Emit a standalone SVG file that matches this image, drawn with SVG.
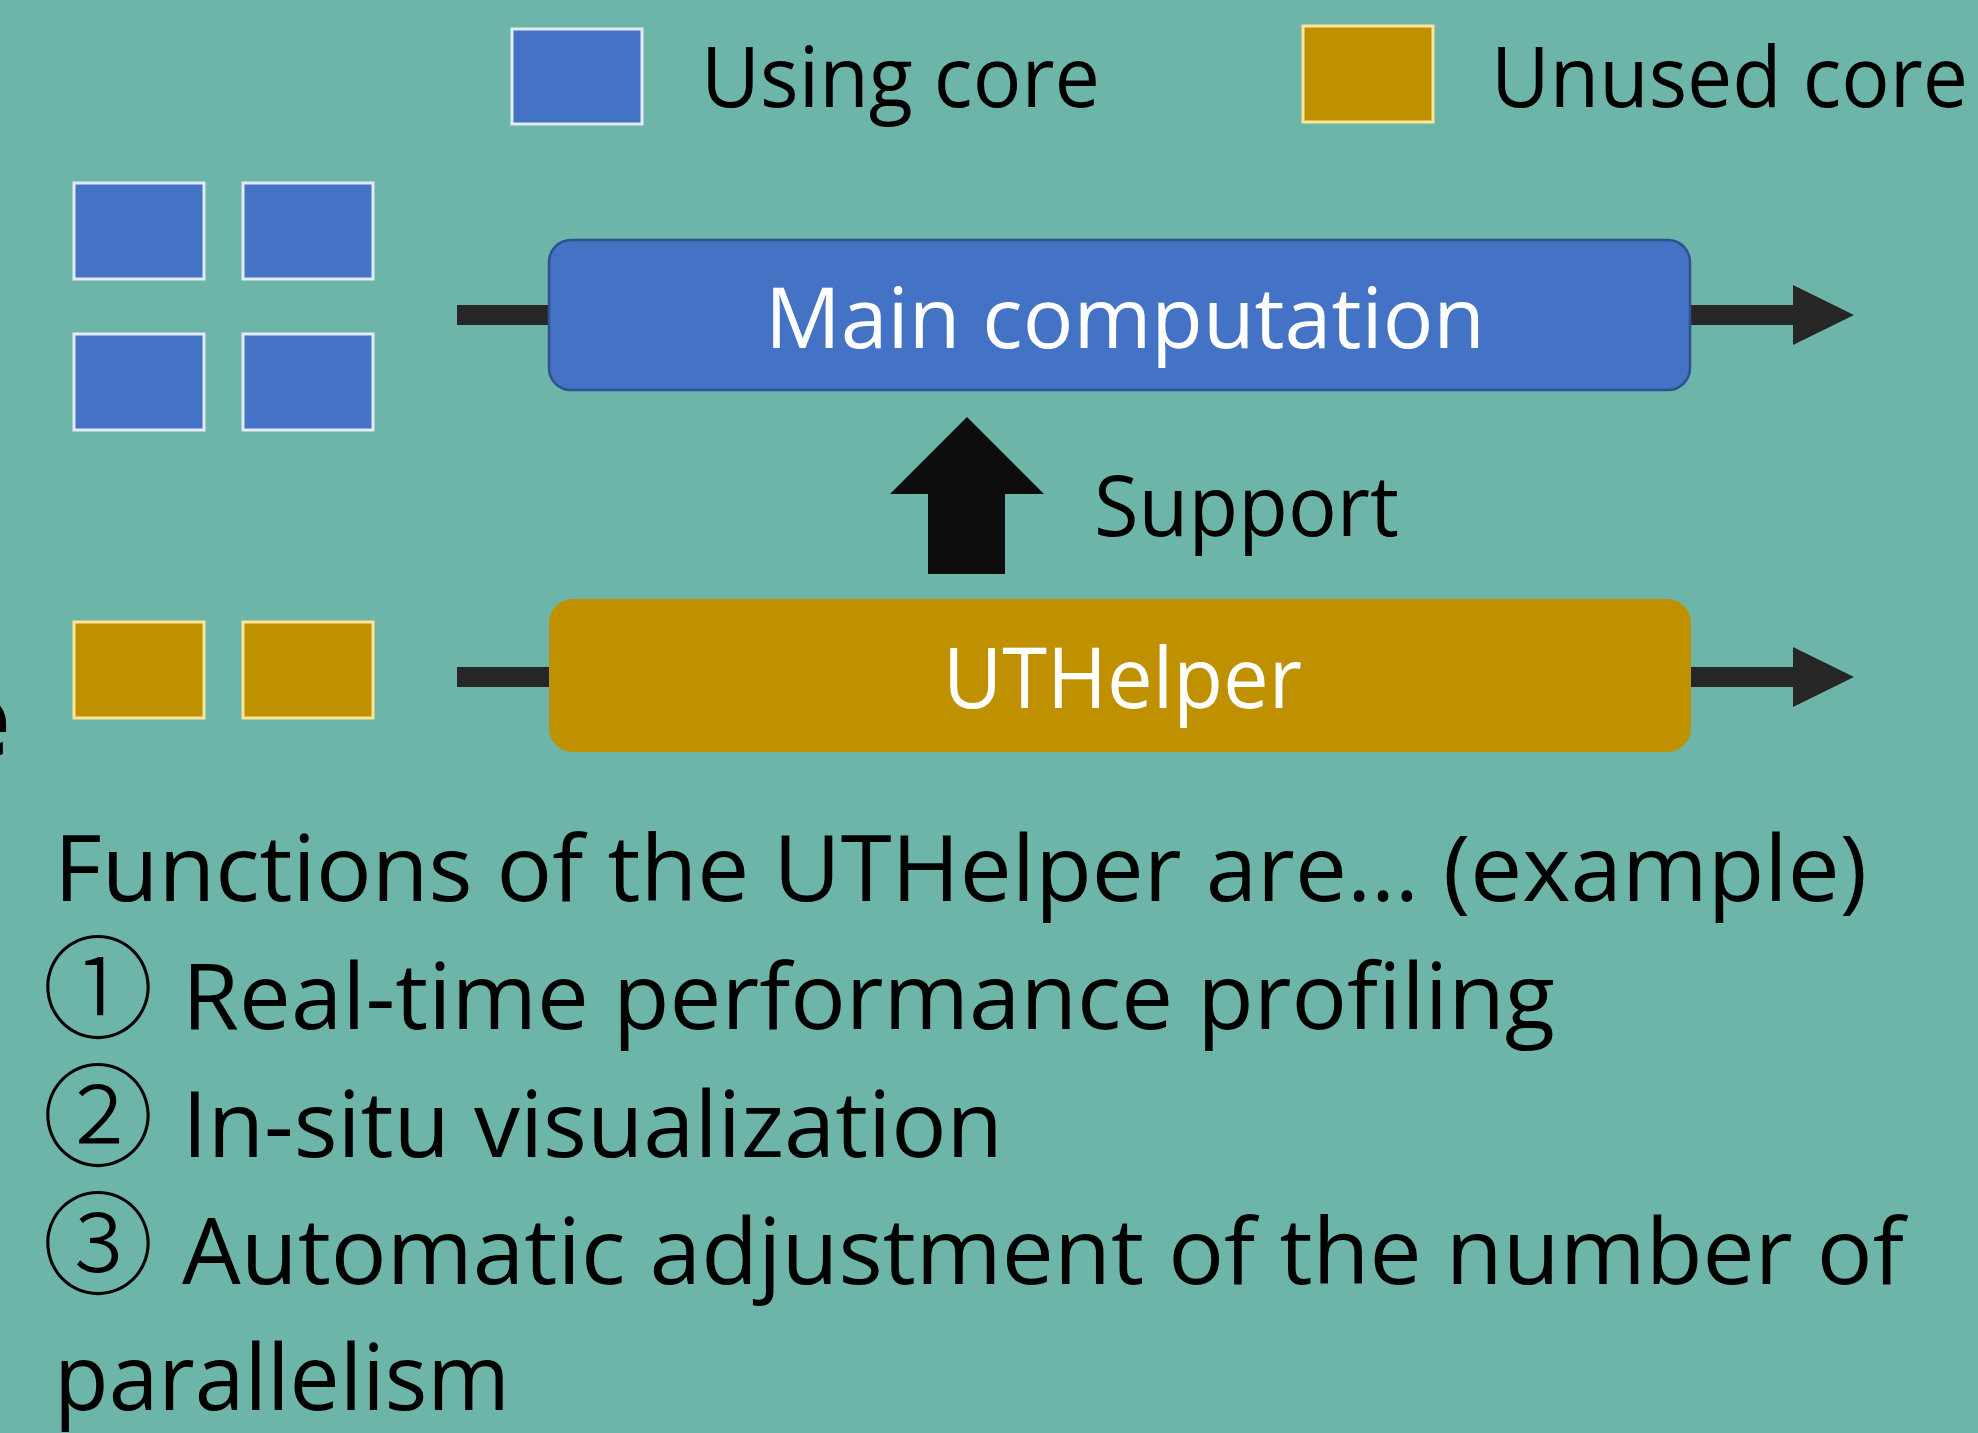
<svg xmlns="http://www.w3.org/2000/svg" width="1978" height="1433" viewBox="0 0 1978 1433">
<defs>
<style>
.t{font-family:"Open Sans","Noto Sans",sans-serif;fill:#000}
.w{fill:#fff}
.lg{font-size:85px}
.bd{font-size:92px}
.core-b{fill:#4472C4;stroke:#E4EAF6;stroke-width:3}
.core-o{fill:#BF9000;stroke:#FFE699;stroke-width:3}
.conn{stroke:#262626;stroke-width:20;fill:none}
.num{font-family:"Noto Sans CJK JP","Noto Sans",sans-serif;font-size:112px;font-weight:300;fill:#000}
</style>
<marker id="ah" markerUnits="userSpaceOnUse" markerWidth="61" markerHeight="60" refX="0" refY="30" orient="auto">
<path d="M0,0 L61,30 L0,60 Z" fill="#262626"/>
</marker>
</defs>
<rect width="1978" height="1433" fill="#6DB5A8"/>

<text class="t" x="-52" y="757" font-size="106" font-weight="700">e</text>

<g id="legend">
<rect class="core-b" x="512" y="29" width="130" height="95"/>
<text class="t lg" x="701" y="107" textLength="399" lengthAdjust="spacingAndGlyphs">Using core</text>
<rect class="core-o" x="1303" y="26" width="130" height="96"/>
<text class="t lg" x="1491" y="107" textLength="477" lengthAdjust="spacingAndGlyphs">Unused core</text>
</g>

<g id="using-cores">
<rect class="core-b" x="74" y="183" width="130" height="96"/>
<rect class="core-b" x="243" y="183" width="130" height="96"/>
<rect class="core-b" x="74" y="334" width="130" height="96"/>
<rect class="core-b" x="243" y="334" width="130" height="96"/>
</g>

<g id="unused-cores">
<rect class="core-o" x="74" y="622" width="130" height="96"/>
<rect class="core-o" x="243" y="622" width="130" height="96"/>
</g>

<g id="connectors">
<line class="conn" x1="457" y1="315" x2="550" y2="315"/>
<line class="conn" x1="1689" y1="315" x2="1793" y2="315" marker-end="url(#ah)"/>
<line class="conn" x1="457" y1="677" x2="550" y2="677"/>
<line class="conn" x1="1690" y1="677" x2="1793" y2="677" marker-end="url(#ah)"/>
<polygon id="support-arrow" points="967,417 1044,494 1005,494 1005,574 928,574 928,494 890,494" fill="#0D0D0D"/>
<text class="t lg" x="1094" y="536" textLength="305" lengthAdjust="spacingAndGlyphs">Support</text>
</g>

<g id="main-computation">
<rect x="549" y="240" width="1141" height="150" rx="22" fill="#4472C4" stroke="#2F528F" stroke-width="2.5"/>
<text class="t lg w" x="765" y="348" textLength="720" lengthAdjust="spacingAndGlyphs">Main computation</text>
</g>

<g id="uthelper">
<rect x="549" y="599" width="1142" height="153" rx="24" fill="#BF9000"/>
<text class="t lg w" x="943" y="708" textLength="359" lengthAdjust="spacingAndGlyphs">UTHelper</text>
</g>

<g id="functions">
<text class="t bd" x="54" y="901" textLength="1813" lengthAdjust="spacingAndGlyphs">Functions of the UTHelper are… (example)</text>
<text class="num" x="98" y="1030" text-anchor="middle">①</text>
<text class="t bd" x="182" y="1029" textLength="1373" lengthAdjust="spacingAndGlyphs">Real-time performance profiling</text>
<text class="num" x="98" y="1158" text-anchor="middle">②</text>
<text class="t bd" x="182" y="1157" textLength="821" lengthAdjust="spacingAndGlyphs">In-situ visualization</text>
<text class="num" x="98" y="1286" text-anchor="middle">③</text>
<text class="t bd" x="182" y="1284" textLength="1722" lengthAdjust="spacingAndGlyphs">Automatic adjustment of the number of</text>
<text class="t bd" x="54" y="1410" textLength="456" lengthAdjust="spacingAndGlyphs">parallelism</text>
</g>
</svg>
